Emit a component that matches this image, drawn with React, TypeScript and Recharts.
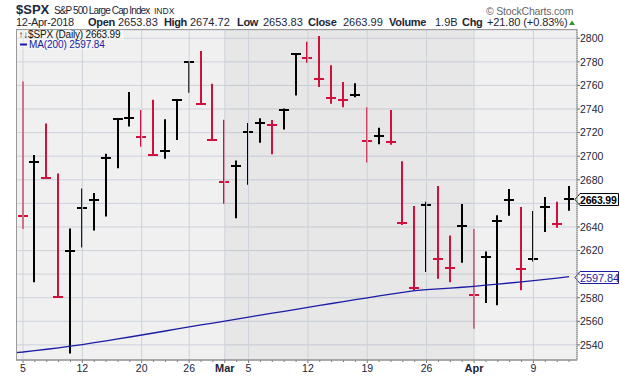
import {
  ComposedChart,
  Bar,
  Line,
  XAxis,
  YAxis,
  CartesianGrid,
  ReferenceArea,
  ReferenceLine,
} from 'recharts'

// trading days shown, Feb 5 .. Apr 12 2018
const days = [
  'Feb 5', 'Feb 6', 'Feb 7', 'Feb 8', 'Feb 9',
  'Feb 12', 'Feb 13', 'Feb 14', 'Feb 15', 'Feb 16',
  'Feb 20', 'Feb 21', 'Feb 22', 'Feb 23',
  'Feb 26', 'Feb 27', 'Feb 28', 'Mar 1', 'Mar 2',
  'Mar 5', 'Mar 6', 'Mar 7', 'Mar 8', 'Mar 9',
  'Mar 12', 'Mar 13', 'Mar 14', 'Mar 15', 'Mar 16',
  'Mar 19', 'Mar 20', 'Mar 21', 'Mar 22', 'Mar 23',
  'Mar 26', 'Mar 27', 'Mar 28', 'Mar 29',
  'Apr 2', 'Apr 3', 'Apr 4', 'Apr 5', 'Apr 6',
  'Apr 9', 'Apr 10', 'Apr 11', 'Apr 12',
]

const highs = [
  2763.4, 2701.0, 2727.7, 2685.3, 2638.7,
  2672.6, 2668.8, 2702.1, 2731.5, 2754.4,
  2739.1, 2747.8, 2731.3, 2747.8,
  2780.6, 2789.2, 2761.5, 2730.9, 2696.3,
  2728.1, 2732.1, 2730.6, 2740.5, 2786.6,
  2797.0, 2801.9, 2777.1, 2763.0, 2761.9,
  2741.4, 2724.2, 2739.1, 2695.7, 2657.7,
  2661.4, 2674.8, 2632.7, 2659.4,
  2638.3, 2619.1, 2649.9, 2672.1, 2656.9,
  2653.6, 2665.5, 2661.4, 2674.72,
]

const lows = [
  2638.2, 2593.1, 2681.3, 2580.6, 2532.7,
  2622.5, 2637.1, 2648.9, 2689.8, 2725.1,
  2708.0, 2701.3, 2697.8, 2713.7,
  2753.8, 2744.2, 2713.5, 2659.7, 2647.3,
  2675.8, 2711.3, 2701.7, 2722.7, 2751.5,
  2779.3, 2758.7, 2744.4, 2741.5, 2750.0,
  2694.6, 2710.1, 2709.8, 2641.6, 2585.9,
  2601.8, 2596.1, 2593.1, 2609.7,
  2553.8, 2575.5, 2573.6, 2649.6, 2586.3,
  2610.8, 2635.8, 2639.3, 2653.83,
]

const closes = [
  2648.9, 2695.1, 2681.7, 2581.0, 2619.6,
  2656.0, 2662.9, 2698.6, 2731.2, 2732.2,
  2716.3, 2701.3, 2704.0, 2747.3,
  2779.6, 2744.3, 2713.8, 2677.7, 2691.3,
  2720.9, 2728.1, 2726.8, 2739.0, 2786.6,
  2783.0, 2765.3, 2749.5, 2747.3, 2752.0,
  2712.9, 2716.9, 2711.9, 2643.7, 2588.3,
  2658.6, 2612.6, 2605.0, 2640.9,
  2581.9, 2614.5, 2644.7, 2662.8, 2604.5,
  2613.2, 2656.9, 2642.19, 2663.99,
]

const ma200 = [
  2534.0, 2535.1, 2536.3, 2537.5, 2538.9,
  2540.3, 2541.9, 2543.5, 2545.1, 2546.7,
  2548.4, 2550.1, 2551.8, 2553.5,
  2555.2, 2556.9, 2558.5, 2560.2, 2561.9,
  2563.6, 2565.2, 2566.9, 2568.5, 2570.2,
  2571.8, 2573.5, 2575.1, 2576.7, 2578.3,
  2579.9, 2581.5, 2583.0, 2584.5, 2586.0,
  2586.8, 2587.5, 2588.2, 2588.9,
  2589.7, 2590.6, 2591.5, 2592.5, 2593.5,
  2594.5, 2595.6, 2596.7, 2597.84,
]

const maBefore = 2533.2 // Feb 2, so the MA runs to the left edge
const prevClose = 2762.13 // Feb 2 close, colours the first bar
const lastOpen = 2653.83
const lastVolume = '1.9B'

const majorTicks = [0, 5, 10, 14, 17, 19, 24, 29, 34, 38, 43]
const majorLabels = ['5', '12', '20', '26', 'Mar', '5', '12', '19', '26', 'Apr', '9']
const yTicks = [2540, 2560, 2580, 2600, 2620, 2640, 2660, 2680, 2700, 2720, 2740, 2760, 2780, 2800]

const RED = '#d1103c'
const BLUE = '#1c1ca6'
const INK = '#1c2638'
const FONT = '"Liberation Sans", Arial, sans-serif'

const data = [
  { i: -1, day: 'Feb 2', ma: maBefore },
  ...days.map((day, i) => ({
    i,
    day,
    high: highs[i],
    low: lows[i],
    close: closes[i],
    ma: ma200[i],
    up: closes[i] >= (i ? closes[i - 1] : prevClose),
  })),
]

const n = closes.length
const lastClose = closes[n - 1]
const lastMa = ma200[n - 1]
const chg = lastClose - closes[n - 2]
const chgPct = (chg / closes[n - 2]) * 100

function HlcBar(props: any) {
  const { x, y, width, height, payload } = props
  if (payload == null || payload.high == null) return <g />
  const top = Math.min(y, y + height)
  const bot = Math.max(y, y + height)
  const cx = Math.round(x + width / 2)
  const span = payload.high - payload.low
  const cy = Math.round(span > 0 ? top + ((bot - top) * (payload.high - payload.close)) / span : top)
  const c = payload.up ? '#000' : RED
  return (
    <g>
      <line x1={cx} x2={cx} y1={top} y2={bot} stroke={c} strokeWidth={2} />
      <line x1={cx - 5} x2={cx + 5} y1={cy} y2={cy} stroke={c} strokeWidth={2} />
    </g>
  )
}

function DayTick(props: any) {
  const { x, y, payload } = props
  const k = majorTicks.indexOf(payload.value)
  const lbl = k >= 0 ? majorLabels[k] : null
  const bold = lbl === 'Mar' || lbl === 'Apr'
  return (
    <g>
      <line x1={x} x2={x} y1={y} y2={y + (k >= 0 ? 3 : 2)} stroke="#777" />
      {lbl && (
        <text
          x={x}
          y={y + 12}
          textAnchor="middle"
          fontFamily={FONT}
          fontSize={bold ? 11 : 10.5}
          fontWeight={bold ? 'bold' : 'normal'}
          fill={INK}
        >
          {lbl}
        </text>
      )}
    </g>
  )
}

function PriceTick(props: any) {
  const { x, y, payload } = props
  if (payload.value === 2660 || payload.value === 2600) return <g />
  return (
    <text x={x} y={y} dy={3.8} fontFamily={FONT} fontSize={10.5} fill={INK} textAnchor="start">
      {payload.value}
    </text>
  )
}

function PriceTag({ viewBox, text, color, bold }: any) {
  if (!viewBox) return null
  const x = viewBox.x + viewBox.width - 2
  const y = Math.round(viewBox.y) + 0.5
  const d = `M${x},${y} L${x + 5},${y - 6} H618.5 V${y + 6} H${x + 5} Z`
  return (
    <g>
      <path d={d} fill="#fff" stroke={color} strokeWidth={1} />
      <text
        x={x + 5}
        y={y + 4}
        fontFamily={FONT}
        fontSize={bold ? 10.5 : 11}
        fontWeight={bold ? 'bold' : 'normal'}
        fill={color}
        letterSpacing={bold ? -0.2 : -0.1}
      >
        {text}
      </text>
    </g>
  )
}

function T({ x, y, size = 10, bold = false, fill = INK, ls = 0, children }: any) {
  return (
    <text
      x={x}
      y={y}
      fontFamily={FONT}
      fontSize={size}
      fontWeight={bold ? 'bold' : 'normal'}
      fill={fill}
      letterSpacing={ls}
    >
      {children}
    </text>
  )
}

export default function App() {
  return (
    <div style={{ position: 'absolute', left: 0, top: 0, width: 620, height: 376, background: '#fff' }}>
      <ComposedChart width={620} height={376} data={data} margin={{ top: 30, right: 0, bottom: 0, left: 16 }}>
        <CartesianGrid vertical={false} stroke="#cdd2db" fill="#f0f0f0" fillOpacity={1} />
        <ReferenceArea x1={17} x2={38} fill="#000" fillOpacity={0.035} stroke="none" />
        {majorTicks.map((t) => (
          <ReferenceLine key={t} x={t} stroke="#cdd2db" />
        ))}
        <XAxis
          dataKey="i"
          type="number"
          domain={[-0.59, 46.67]}
          allowDataOverflow
          ticks={data.slice(1).map((d) => d.i)}
          interval={0}
          height={16}
          tickSize={0}
          tickMargin={0}
          tickLine={false}
          axisLine={{ stroke: '#8a8a8a' }}
          tick={<DayTick />}
        />
        <YAxis
          orientation="right"
          type="number"
          domain={[2527.2, 2807]}
          allowDataOverflow
          ticks={yTicks}
          interval={0}
          width={43}
          tickSize={3}
          tickMargin={0}
          tickLine={{ stroke: '#666' }}
          axisLine={{ stroke: '#777', strokeDasharray: '1 1' }}
          tick={<PriceTick />}
        />
        <Line
          dataKey="ma"
          type="linear"
          stroke={BLUE}
          strokeWidth={1.3}
          dot={false}
          isAnimationActive={false}
        />
        <Bar
          dataKey={(d: any) => (d.high == null ? null : [d.low, d.high])}
          barSize={9}
          shape={<HlcBar />}
          isAnimationActive={false}
        />
        <ReferenceLine
          y={lastClose}
          stroke="none"
          label={(p: any) => <PriceTag viewBox={p.viewBox} text={lastClose.toFixed(2)} color="#000" bold />}
        />
        <ReferenceLine
          y={lastMa}
          stroke="none"
          label={(p: any) => <PriceTag viewBox={p.viewBox} text={lastMa.toFixed(2)} color={BLUE} />}
        />
      </ComposedChart>
      <svg
        width={620}
        height={376}
        style={{ position: 'absolute', left: 0, top: 0, pointerEvents: 'none' }}
      >
        <T x={16} y={14} size={13} bold>$SPX</T>
        <T x={54} y={14} size={10} ls={-0.9}>S&amp;P 500 Large Cap Index</T>
        <T x={154} y={14} size={8.5}>INDX</T>
        <T x={486} y={15} size={10.5} fill="#666" ls={-0.2}>© StockCharts.com</T>

        <T x={16} y={26} size={11} ls={-0.3}>12-Apr-2018</T>
        <T x={88} y={26} size={11} bold ls={-0.3}>Open</T>
        <T x={118} y={26} size={11}>{lastOpen.toFixed(2)}</T>
        <T x={164} y={26} size={11} bold ls={-0.4}>High</T>
        <T x={190} y={26} size={11}>{highs[n - 1].toFixed(2)}</T>
        <T x={237} y={26} size={11} bold ls={-0.3}>Low</T>
        <T x={263} y={26} size={11}>{lows[n - 1].toFixed(2)}</T>
        <T x={308} y={26} size={11} bold ls={-0.3}>Close</T>
        <T x={343} y={26} size={11}>{lastClose.toFixed(2)}</T>
        <T x={389} y={26} size={11} bold ls={-0.3}>Volume</T>
        <T x={435} y={26} size={11}>{lastVolume}</T>
        <T x={462} y={26} size={11} bold ls={-0.3}>Chg</T>
        <T x={487} y={26} size={11} ls={-0.1}>{`+${chg.toFixed(2)} (+${chgPct.toFixed(2)}%)`}</T>
        <path d="M569,25 L575,25 L572,20.5 Z" fill="#2e9a2e" />

        <rect x={16.5} y={29.5} width={560.5} height={330.5} fill="none" stroke="#9a9a9a" />

        <rect x={17} y={30} width={107} height={10} fill="#fff" fillOpacity={0.45} />
        <rect x={17} y={40} width={88} height={10} fill="#fff" fillOpacity={0.3} />
        <T x={18.5} y={38} fill="#111" ls={-0.2}>↑↓$SPX (Daily) {lastClose.toFixed(2)}</T>
        <line x1={20} x2={27} y1={44.5} y2={44.5} stroke={BLUE} strokeWidth={2} />
        <T x={29} y={48} fill={BLUE} ls={-0.1}>MA(200) {lastMa.toFixed(2)}</T>
      </svg>
    </div>
  )
}
